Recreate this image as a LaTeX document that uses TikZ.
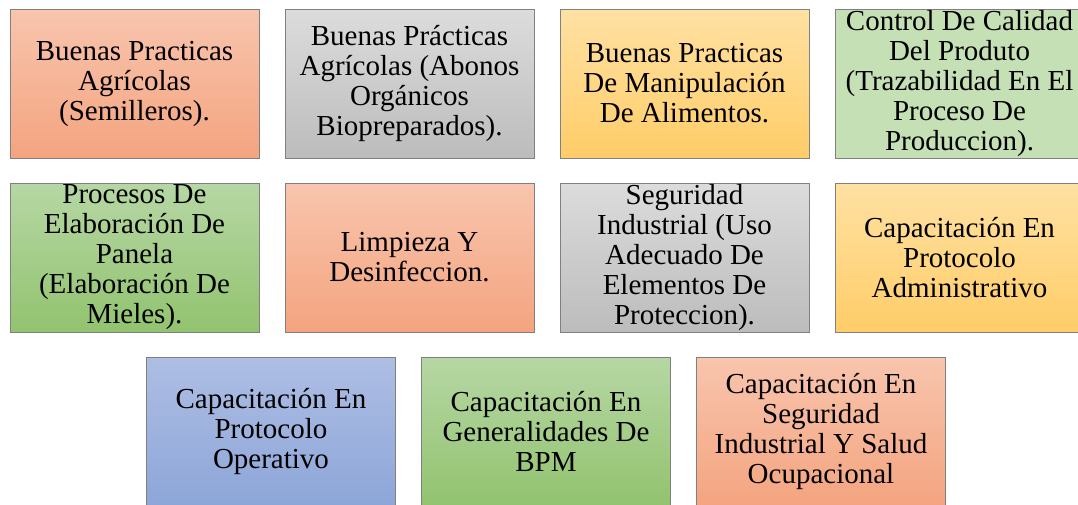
\documentclass[tikz,border=0pt]{standalone}
\usepackage{fontspec}
\setmainfont{Liberation Serif}
\usetikzlibrary{positioning}

\definecolor{tileedge}{HTML}{808080}
\definecolor{salmontop}{HTML}{F8C5AE}
\definecolor{salmonbot}{HTML}{F4A47F}
\definecolor{greytop}{HTML}{DCDCDC}
\definecolor{greybot}{HTML}{BCBCBC}
\definecolor{goldtop}{HTML}{FFE1A3}
\definecolor{goldbot}{HTML}{FFCD68}
\definecolor{mintfill}{HTML}{C6E0B5}
\definecolor{leaftop}{HTML}{B6D7A4}
\definecolor{leafbot}{HTML}{92C36F}
\definecolor{bluetop}{HTML}{AEBEE4}
\definecolor{bluebot}{HTML}{8DA6D8}

\tikzset{
  tile/.style={draw=tileedge, line width=1pt, minimum width=249pt, minimum height=149pt,
    inner sep=0pt, align=center, font=\fontsize{29}{30}\selectfont},
  salmon/.style={tile, top color=salmontop, bottom color=salmonbot},
  grey/.style={tile, top color=greytop, bottom color=greybot},
  gold/.style={tile, top color=goldtop, bottom color=goldbot},
  mint/.style={tile, fill=mintfill},
  leaf/.style={tile, top color=leaftop, bottom color=leafbot},
  sky/.style={tile, top color=bluetop, bottom color=bluebot}
}

\begin{document}
\begin{tikzpicture}[x=1pt, y=1pt, node distance=25pt]
    \useasboundingbox (0,0) rectangle (1078,-504);

    % First row
    \node[salmon] (semilleros) at (134.5,-83.5) {Buenas Practicas\\Agrícolas\\(Semilleros).};
    \node[grey, right=of semilleros] (abonos) {Buenas Prácticas\\Agrícolas (Abonos\\Orgánicos\\Biopreparados).};
    \node[gold, right=of abonos] (manipulacion) {Buenas Practicas\\De Manipulación\\De Alimentos.};
    \node[mint, right=of manipulacion] (calidad) {Control De Calidad\\Del Produto\\(Trazabilidad En El\\Proceso De\\Produccion).};

    % Second row
    \node[leaf, below=24pt of semilleros] (panela) {Procesos De\\Elaboración De\\Panela\\(Elaboración De\\Mieles).};
    \node[salmon, right=of panela] (limpieza) {Limpieza Y\\Desinfeccion.};
    \node[grey, right=of limpieza] (seguridad) {Seguridad\\Industrial (Uso\\Adecuado De\\Elementos De\\Proteccion).};
    \node[gold, right=of seguridad] (administrativo) {Capacitación En\\Protocolo\\Administrativo};

    % Third row
    \node[sky] (operativo) at (271,-431.5) {Capacitación En\\Protocolo\\Operativo};
    \node[leaf, right=of operativo] (bpm) {Capacitación En\\Generalidades De\\BPM};
    \node[salmon, right=of bpm] (salud) {Capacitación En\\Seguridad\\Industrial Y Salud\\Ocupacional};
\end{tikzpicture}
\end{document}
